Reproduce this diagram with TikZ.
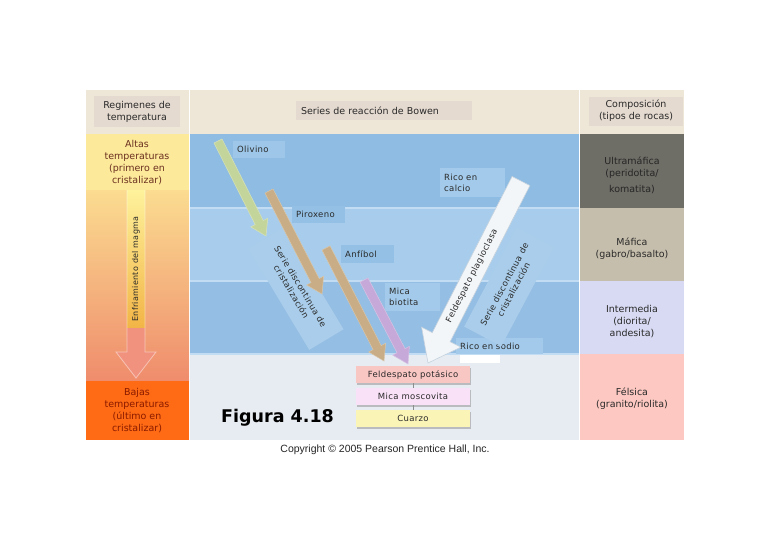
\documentclass[tikz,border=0pt]{standalone}
\usepackage{fontspec}
\setmainfont{DejaVu Sans}
\newfontfamily\arialf{Liberation Sans}
\newfontfamily\spacedf[LetterSpace=4]{DejaVu Sans}
\usetikzlibrary{calc,shadows}
\definecolor{hdr}{HTML}{EEE6D6}
\definecolor{hdrbox}{HTML}{E5DAD0}
\definecolor{altas}{HTML}{FDE99A}
\definecolor{gradtop}{HTML}{FBDC90}
\definecolor{gradbot}{HTML}{EF8C6C}
\definecolor{bajas}{HTML}{FE6B14}
\definecolor{bajastxt}{HTML}{8A1A00}
\definecolor{altastxt}{HTML}{6A3020}
\definecolor{rowa}{HTML}{8EBCE2}
\definecolor{rowb}{HTML}{A8CDEC}
\definecolor{rowc}{HTML}{94BEE3}
\definecolor{rowd}{HTML}{E7ECF2}
\definecolor{rowline}{HTML}{C2DDF3}
\definecolor{lblA}{HTML}{9DC6E8}
\definecolor{lblB}{HTML}{93C0E4}
\definecolor{lblC}{HTML}{A3CAEA}
\definecolor{seriebox}{HTML}{A9CDEA}
\definecolor{ultra}{HTML}{6E6D66}
\definecolor{mafica}{HTML}{C6BEAC}
\definecolor{inter}{HTML}{D7DAF2}
\definecolor{felsica}{HTML}{FCC8C1}
\definecolor{olive}{HTML}{C4D59C}
\definecolor{tan}{HTML}{C8AD86}
\definecolor{lav}{HTML}{C6A9D9}
\definecolor{plag}{HTML}{F3F6F9}
\definecolor{plagedge}{HTML}{C5D2DE}
\definecolor{fp}{HTML}{F8C6C3}
\definecolor{mm}{HTML}{F9E1F7}
\definecolor{cz}{HTML}{FAF4B7}
\definecolor{arrY}{HTML}{FEF29C}
\definecolor{arrO}{HTML}{F2B446}
\definecolor{salmon}{HTML}{F1927F}
\definecolor{txt}{HTML}{2A2A2A}
\tikzset{
  coltext/.style={font=\fontsize{9.5}{12}\selectfont, text=txt, align=center, inner sep=0pt},
  hbox/.style={fill=hdrbox, font=\fontsize{9.5}{12}\selectfont, text=txt, align=center, inner sep=0pt},
  lblbox/.style={anchor=north west, inner xsep=4pt, inner ysep=0pt, align=left,
    font=\spacedf\fontsize{8.5}{11}\selectfont, text=txt},
  seriestyle/.style={fill=seriebox, align=center, inner sep=0pt,
    font=\spacedf\fontsize{8.5}{10.5}\selectfont, text=txt},
  minbox/.style={minimum width=114pt, minimum height=17pt, inner sep=0pt,
    font=\spacedf\fontsize{8.5}{10}\selectfont, text=txt,
    drop shadow={shadow xshift=1pt, shadow yshift=-1.5pt, fill=black!45, opacity=.5}},
}
% fat arrow: #1 style, #2 tail, #3 tip, #4 half shaft, #5 half head, #6 head length
\newcommand\fatarrow[6]{%
  \coordinate (fatH) at ($(#3)!#6!(#2)$);
  \path[#1] ($(#2)!#4!90:(#3)$) -- ($(fatH)!#4!90:(#3)$) -- ($(fatH)!#5!90:(#3)$)
    -- (#3) -- ($(fatH)!#5!-90:(#3)$) -- ($(fatH)!#4!-90:(#3)$) -- ($(#2)!#4!-90:(#3)$) -- cycle;
}
\begin{document}
\begin{tikzpicture}[x=1pt,y=-1pt]
\useasboundingbox (0,0) rectangle (768,543);
\fill[white] (0,0) rectangle (768,543);
% ---------- left column ----------
\fill[hdr] (86,90) rectangle (189,134);
\node[hbox, minimum width=86pt, minimum height=31pt] (lhead) at (137,111.5) {Regimenes de\\temperatura};
\fill[altas] (86,134) rectangle (189,190);
\shade[top color=gradtop, bottom color=gradbot] (86,190) rectangle (189,381);
\fill[bajas] (86,381) rectangle (189,440);
\node[coltext, text=altastxt] (altas) at (137,162.5) {Altas\\temperaturas\\(primero en\\cristalizar)};
\node[coltext, text=bajastxt] (bajas) at (137,410.5) {Bajas\\temperaturas\\(último en\\cristalizar)};
% cooling arrow
\shade[top color=arrY, bottom color=arrO] (127,190) rectangle (145,328);
\fill[salmon] (127,328) rectangle (145,352);
\fill[salmon] (116,352) -- (156,352) -- (136,378) -- cycle;
\draw[white, opacity=.45, line width=.8pt] (127,190) -- (127,352) -- (116,352) -- (136,378) -- (156,352) -- (145,352) -- (145,190);
\node[rotate=90, font=\spacedf\fontsize{8}{9}\selectfont, text=txt, inner sep=0pt] (enf) at (136,269) {Enfriamiento del magma};
% ---------- middle column ----------
\fill[hdr] (190,90) rectangle (579,134);
\node[hbox, minimum width=176pt, minimum height=19pt, align=left, text width=166pt, inner xsep=5pt] (mhead) at (384,110.5) {Series de reacción de Bowen};
\fill[rowa] (190,134) rectangle (579,208);
\fill[rowb] (190,208) rectangle (579,281);
\fill[rowc] (190,281) rectangle (579,354);
\fill[rowd] (190,354) rectangle (579,440);
\foreach \yy in {208,281,354} \draw[rowline, line width=1.5pt] (190,\yy) -- (579,\yy);
% label boxes
\node[lblbox, fill=lblA, minimum height=17pt, text width=44pt] (olivino) at (233,141) {Olivino};
\node[lblbox, fill=lblB, minimum height=17pt, text width=45pt] (pirox) at (292,206) {Piroxeno};
\node[lblbox, fill=lblB, minimum height=18pt, text width=45pt] (anfib) at (341,245) {Anfíbol};
\node[lblbox, fill=lblC, minimum height=28pt, text width=47pt] (mica) at (385,283) {Mica\\biotita};
\node[lblbox, fill=lblC, minimum height=29pt, text width=57pt] (calcio) at (440,168) {Rico en\\calcio};
\node[lblbox, fill=lblC, minimum height=16pt, text width=79pt] (sodio) at (456,338) {Rico en sodio};
\fill[white] (460,355) rectangle (500,363);
% serie boxes
\node[seriestyle, rotate=-59, minimum width=118pt, minimum height=40pt] (serieL) at (296,289) {Serie discontinua de\\cristalización};
\node[seriestyle, rotate=62, minimum width=112pt, minimum height=42pt] (serieR) at (509,287) {Serie discontinua de\\cristalización};
% mineral arrows
\coordinate (olT) at (218,141); \coordinate (olE) at (266,236);
\coordinate (pxT) at (269,191); \coordinate (pxE) at (322,294);
\coordinate (anT) at (326,248); \coordinate (anE) at (384,361);
\coordinate (miT) at (364,280); \coordinate (miE) at (408,364);
\coordinate (plT) at (521,181); \coordinate (plE) at (428,363);
\fatarrow{fill=olive, draw=olive!70!white, line width=.5pt}{olT}{olE}{4.5pt}{9.5pt}{15pt}
\fatarrow{fill=tan, draw=tan!70!white, line width=.5pt}{pxT}{pxE}{4.5pt}{9.5pt}{15pt}
\fatarrow{fill=tan, draw=tan!70!white, line width=.5pt}{anT}{anE}{4.5pt}{9.5pt}{15pt}
\fatarrow{fill=lav, draw=lav!70!white, line width=.5pt}{miT}{miE}{4.5pt}{9.5pt}{15pt}
\fatarrow{fill=plag, draw=plagedge, line width=.6pt}{plT}{plE}{10pt}{22pt}{29pt}
\node[rotate=63, font=\spacedf\fontsize{8.5}{10}\selectfont, text=txt, inner sep=0pt] (plagtxt) at (472,276) {Feldespato plagioclasa};
% final minerals
\node[minbox, fill=fp] (fpot) at (413,374.5) {Feldespato potásico};
\node[minbox, fill=mm] (mosc) at (413,396.5) {Mica moscovita};
\node[minbox, fill=cz] (cuarzo) at (413,418.5) {Cuarzo};
\draw[black!45, line width=.5pt] (fpot.south) -- (mosc.north);
\draw[black!45, line width=.5pt] (mosc.south) -- (cuarzo.north);
\node[font=\bfseries\fontsize{17.5}{20}\selectfont, text=black, inner sep=0pt, anchor=west] (fig) at (221,418) {Figura 4.18};
% ---------- right column ----------
\fill[hdr] (580,90) rectangle (684,134);
\node[hbox, minimum width=94pt, minimum height=29pt] (rhead) at (636,111) {Composición\\(tipos de rocas)};
\fill[ultra] (580,134) rectangle (684,208);
\fill[mafica] (580,208) rectangle (684,281);
\fill[inter] (580,281) rectangle (684,354);
\fill[felsica] (580,354) rectangle (684,440);
\node[coltext, text=black!85] (ultram) at (632,175) {Ultramáfica\\(peridotita/\\[4pt]komatita)};
\node[coltext] (maf) at (632,249) {Máfica\\(gabro/basalto)};
\node[coltext] (inte) at (632,321.5) {Intermedia\\(diorita/\\andesita)};
\node[coltext] (fels) at (632,399) {Félsica\\(granito/riolita)};
% column separators
\draw[white, opacity=.7, line width=1pt] (189.5,90) -- (189.5,440);
\draw[white, opacity=.7, line width=1pt] (579.5,90) -- (579.5,440);
% copyright
\node[font=\arialf\fontsize{10.5}{12}\selectfont, text=black!85, inner sep=0pt] (copy) at (385,450) {Copyright © 2005 Pearson Prentice Hall, Inc.};
\end{tikzpicture}
\end{document}
